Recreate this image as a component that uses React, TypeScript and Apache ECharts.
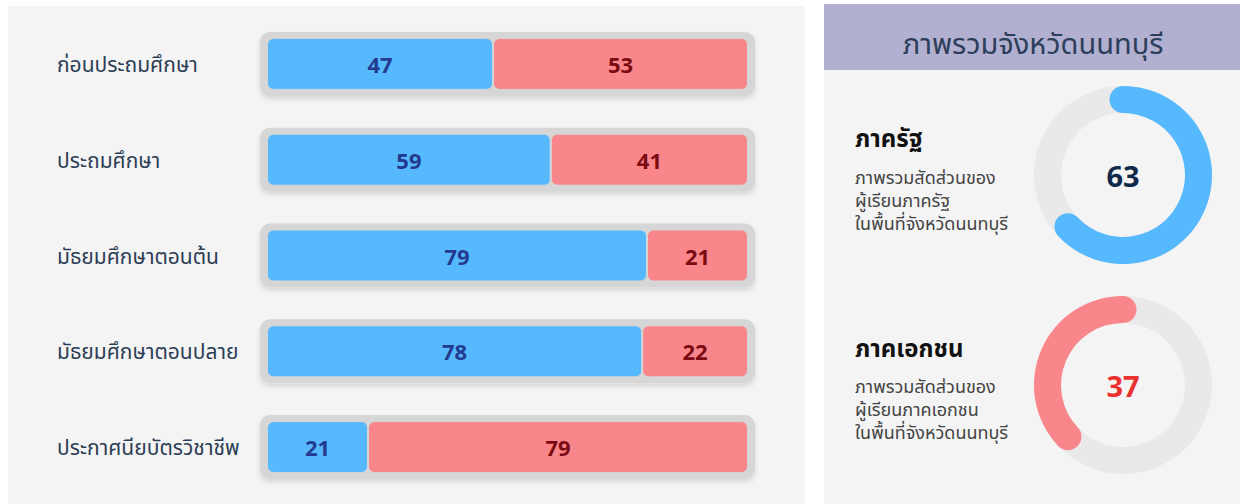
import React, { useEffect, useRef } from "react";
import * as echarts from "echarts";

const categories = [
  "ก่อนประถมศึกษา",
  "ประถมศึกษา",
  "มัธยมศึกษาตอนต้น",
  "มัธยมศึกษาตอนปลาย",
  "ประกาศนียบัตรวิชาชีพ",
];
const publicShare = [47, 59, 79, 78, 21];
const privateShare = [53, 41, 21, 22, 79];
const trackValues = [100, 100, 100, 100, 100];
const overallPublic = 63;
const overallPrivate = 37;
const panelTitle = "ภาพรวมจังหวัดนนทบุรี";
const publicTitle = "ภาครัฐ";
const publicLines = ["ภาพรวมสัดส่วนของ", "ผู้เรียนภาครัฐ", "ในพื้นที่จังหวัดนนทบุรี"];
const privateTitle = "ภาคเอกชน";
const privateLines = ["ภาพรวมสัดส่วนของ", "ผู้เรียนภาคเอกชน", "ในพื้นที่จังหวัดนนทบุรี"];

const FONT = "'Noto Sans', 'Noto Sans Thai', Tahoma, sans-serif";
const BLUE = "#56b9fe";
const RED = "#f9868b";

function gauge(value: number, cy: number, color: string, textColor: string, clockwise: boolean) {
  return {
    type: "gauge",
    center: [1123, cy],
    radius: 89,
    startAngle: 90,
    endAngle: -270,
    clockwise,
    min: 0,
    max: 100,
    axisLine: { lineStyle: { width: 27, color: [[1, "#e9e9e9"]] } },
    progress: { show: true, roundCap: true, width: 27, itemStyle: { color } },
    pointer: { show: false },
    anchor: { show: false },
    axisTick: { show: false },
    splitLine: { show: false },
    axisLabel: { show: false },
    title: { show: false },
    detail: {
      offsetCenter: [0, 0],
      fontSize: 29,
      fontWeight: "bold",
      fontFamily: FONT,
      color: textColor,
      formatter: "{value}",
    },
    data: [{ value }],
  };
}

export default function App() {
  const ref = useRef<HTMLDivElement>(null);
  useEffect(() => {
    if (!ref.current) return;
    const chart = echarts.init(ref.current, undefined, { renderer: "svg" });
    const textLines = (lines: string[], y0: number) =>
      lines.map((t, i) => ({
        type: "text",
        x: 855,
        y: y0 + i * 23,
        style: { text: t, fontSize: 18, fontFamily: FONT, fill: "#444444", verticalAlign: "middle" },
      }));
    const heading = (t: string, y: number) => ({
      type: "text",
      x: 855,
      y,
      style: {
        text: t,
        fontSize: 24,
        fontWeight: "bold",
        fontFamily: FONT,
        fill: "#111111",
        verticalAlign: "middle",
      },
    });
    chart.setOption({
      animation: false,
      backgroundColor: "#ffffff",
      textStyle: { fontFamily: FONT },
      graphic: [
        { type: "rect", shape: { x: 8, y: 6, width: 797, height: 498 }, style: { fill: "#f4f4f4" } },
        { type: "rect", shape: { x: 824, y: 4, width: 416, height: 66 }, style: { fill: "#b1b0d0" } },
        { type: "rect", shape: { x: 824, y: 70, width: 416, height: 434 }, style: { fill: "#f4f4f4" } },
        {
          type: "text",
          x: 1033,
          y: 42,
          style: {
            text: panelTitle,
            fontSize: 29,
            fontFamily: FONT,
            fill: "#2d3e5a",
            align: "center",
            verticalAlign: "middle",
          },
        },
        heading(publicTitle, 137),
        ...textLines(publicLines, 177),
        heading(privateTitle, 347),
        ...textLines(privateLines, 386),
      ],
      grid: [
        { left: 267, width: 481, top: 16, height: 479 },
        { left: 260, width: 495, top: 16, height: 479 },
      ],
      xAxis: [
        { gridIndex: 0, type: "value", min: 0, max: 100, show: false },
        { gridIndex: 1, type: "value", min: 0, max: 100, show: false },
      ],
      yAxis: [
        {
          gridIndex: 0,
          type: "category",
          data: categories,
          inverse: true,
          axisLine: { show: false },
          axisTick: { show: false },
          splitLine: { show: false },
          axisLabel: {
            align: "left",
            margin: 210,
            fontSize: 21,
            fontFamily: FONT,
            color: "#2c3e55",
          },
        },
        { gridIndex: 1, type: "category", data: categories, inverse: true, show: false },
      ],
      series: [
        {
          type: "bar",
          xAxisIndex: 1,
          yAxisIndex: 1,
          data: trackValues,
          barWidth: 64,
          z: 1,
          silent: true,
          itemStyle: {
            color: "#d6d6d6",
            borderRadius: 10,
            shadowBlur: 5,
            shadowOffsetY: 3,
            shadowColor: "rgba(0,0,0,0.12)",
          },
        },
        {
          type: "bar",
          stack: "s",
          data: publicShare,
          barWidth: 52,
          z: 3,
          itemStyle: { color: BLUE, borderRadius: 6, borderColor: "#d6d6d6", borderWidth: 1 },
          label: {
            show: true,
            position: "inside",
            fontSize: 22,
            fontWeight: "bold",
            fontFamily: FONT,
            color: "#233a8f",
          },
        },
        {
          type: "bar",
          stack: "s",
          data: privateShare,
          barWidth: 52,
          z: 3,
          itemStyle: { color: RED, borderRadius: 6, borderColor: "#d6d6d6", borderWidth: 1 },
          label: {
            show: true,
            position: "inside",
            fontSize: 22,
            fontWeight: "bold",
            fontFamily: FONT,
            color: "#7b0b12",
          },
        },
        gauge(overallPublic, 175, BLUE, "#10294a", true),
        gauge(overallPrivate, 385, RED, "#e8322f", false),
      ],
    });
    return () => chart.dispose();
  }, []);
  return (
    <div
      ref={ref}
      style={{ position: "fixed", left: 0, top: 0, width: 1240, height: 504 }}
    />
  );
}
